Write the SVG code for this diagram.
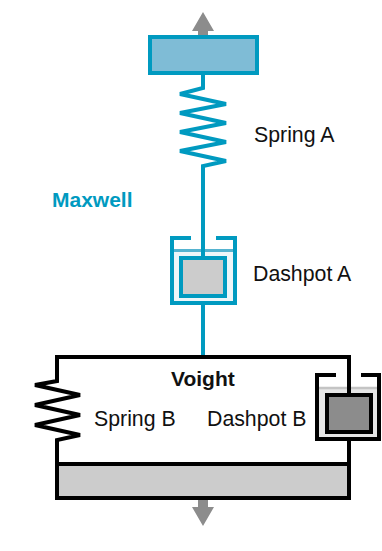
<svg xmlns="http://www.w3.org/2000/svg" width="382" height="551" viewBox="0 0 382 551">
<style>
text{font-family:"Liberation Sans",Arial,sans-serif;font-size:21.3px;fill:#111}
.b{font-weight:bold;font-size:21px}
.t{stroke:#009ac0;stroke-width:4;fill:none}
.k{stroke:#000;stroke-width:4;fill:none}
.a{fill:#8c8c8c}
</style>
<rect width="382" height="551" fill="#fff"/>
<g id="connectors">
<path class="a" d="M203 12L214 31H208V36H198V31H192Z"/>
<path class="a" d="M198 499H208V507H214L203 526L192 507H198Z"/>
<path class="t" d="M203 74V88L180 94L226 104L180 113L226 123L180 132L226 142L180 151L226 161L203 166V256"/>
<path class="t" d="M203 304V356"/>
<path class="k" d="M57 464V440L80 435L35 425L80 415L35 405L80 395L35 385L57 381V357H349V393"/>
<path class="k" d="M349 441V464"/>
</g>
<g id="load-top"><rect x="150" y="37" width="107" height="36" fill="#7fbcd6" stroke="#009ac0" stroke-width="4"/></g>
<g id="spring-a"><text x="254" y="142">Spring A</text></g>
<g id="maxwell"><text x="52" y="207" class="b" style="fill:#009ac0">Maxwell</text></g>
<g id="dashpot-a">
<rect x="172" y="250" width="63" height="53" fill="#eef6f9"/>
<path d="M172 250.500H236" stroke="#55b3d0" stroke-width="3" fill="none"/>
<path class="t" d="M191 238H172V303H235V238H216"/>
<path class="t" d="M203 238V256"/>
<rect x="181" y="258" width="44" height="38" fill="#ccc" stroke="#009ac0" stroke-width="4"/>
<text x="253" y="281">Dashpot A</text>
</g>
<g id="voight">
<text x="171" y="386" class="b">Voight</text>
<text x="94" y="425.500">Spring B</text>
</g>
<g id="dashpot-b">
<rect x="317" y="388" width="62" height="51" fill="#e6e6e6"/>
<path d="M317 388H379" stroke="#c4c4c4" stroke-width="2.500" fill="none"/>
<path class="k" d="M336 375H317V439H379V375H361"/>
<path class="k" d="M349 375V393"/>
<rect x="327" y="395" width="44" height="37" fill="#8c8c8c" stroke="#000" stroke-width="4"/>
<text x="207" y="425.500">Dashpot B</text>
</g>
<g id="load-bottom"><rect x="57" y="464" width="292" height="34" fill="#ccc" stroke="#000" stroke-width="4"/></g>
</svg>
